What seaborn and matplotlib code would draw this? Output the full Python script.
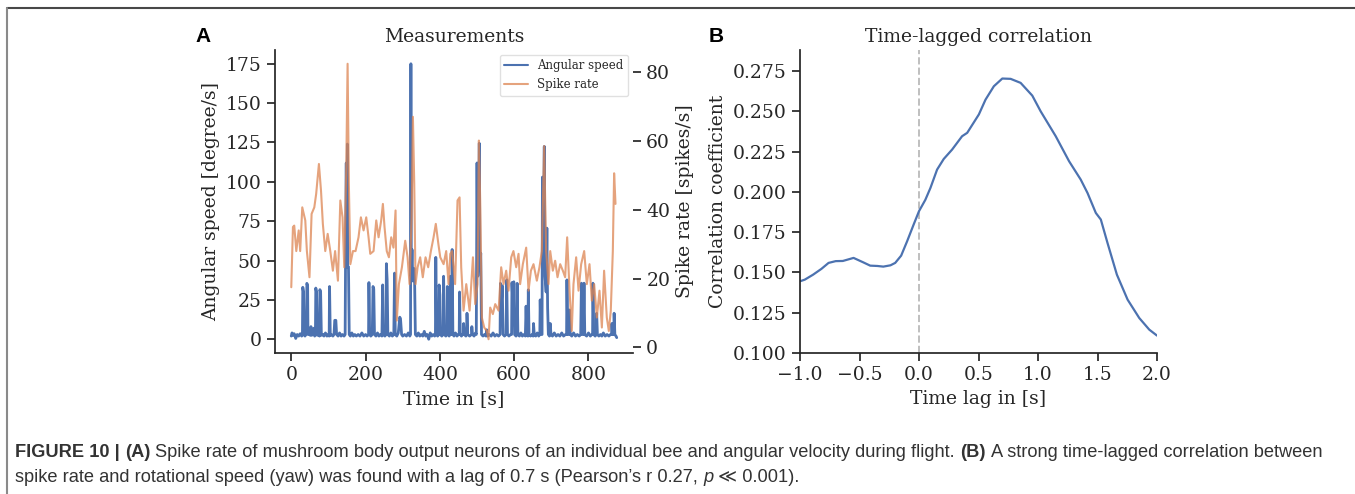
import matplotlib
matplotlib.use("Agg")
import matplotlib.pyplot as plt
from matplotlib import font_manager
from matplotlib.lines import Line2D
import seaborn as sns

# ---- panel A: angular speed (left axis) ----
speed_time = [0, 2, 5, 8, 12, 16, 20, 24, 28, 30,
              31, 33, 35, 37, 39, 41, 42, 44, 45, 48,
              51, 53, 55, 58, 61, 63, 65, 66, 68, 70,
              73, 76, 77, 79, 81, 85, 88, 92, 96, 100,
              102, 103, 105, 108, 112, 115, 117, 120, 122, 126,
              130, 134, 138, 142, 145, 146, 148, 149, 151, 152,
              154, 156, 159, 163, 167, 171, 175, 180, 185, 190,
              195, 200, 204, 208, 209, 211, 214, 218, 220, 222,
              224, 228, 232, 236, 240, 244, 246, 248, 252, 255,
              256, 258, 260, 264, 268, 272, 276, 278, 280, 284,
              288, 292, 294, 297, 300, 305, 310, 315, 319, 321,
              322, 323, 325, 327, 330, 332, 334, 338, 342, 346,
              350, 354, 358, 362, 366, 370, 374, 378, 382, 386,
              388, 389, 391, 394, 397, 398, 400, 402, 405, 409,
              410, 412, 416, 419, 420, 422, 425, 427, 428, 430,
              432, 433, 435, 438, 442, 446, 450, 452, 453, 455,
              458, 461, 463, 464, 466, 470, 472, 473, 475, 480,
              485, 486, 488, 492, 496, 498, 500, 502, 504, 506,
              508, 510, 512, 516, 520, 524, 526, 528, 533, 538,
              543, 548, 553, 558, 562, 563, 565, 568, 570, 574,
              578, 580, 582, 586, 590, 593, 594, 596, 599, 601,
              605, 607, 608, 610, 614, 618, 622, 626, 630, 632,
              634, 637, 638, 640, 644, 648, 651, 652, 654, 658,
              662, 666, 669, 670, 672, 675, 676, 678, 681, 683,
              686, 688, 690, 692, 695, 697, 699, 703, 708, 713,
              718, 723, 728, 733, 738, 741, 742, 744, 747, 749,
              751, 755, 760, 765, 770, 775, 779, 781, 783, 786,
              788, 790, 795, 800, 805, 809, 811, 812, 814, 818,
              821, 822, 824, 828, 832, 836, 840, 845, 850, 855,
              859, 862, 863, 865, 868, 869, 871, 874, 876]
speed_vals = [2, 4, 2.5, 3.5, 0.5, 3, 2, 3.5, 2, 2.5,
              33, 30, 3, 2, 3, 4, 35.5, 34, 3, 4,
              2.5, 8, 2.5, 3, 7, 2, 3, 32.5, 30, 2.5,
              3, 2, 31.5, 30, 2.5, 3, 2, 4, 2, 3,
              2, 33.5, 2.5, 3, 2, 3, 12, 12, 3, 2,
              4, 2, 3, 2, 3, 46, 112, 46, 124, 46,
              46, 3, 2, 4, 2, 3, 2, 3, 2, 4,
              2, 3, 2, 3, 36, 3, 2, 3, 33.5, 32,
              3, 2, 4, 2, 3, 2, 34.5, 3, 2, 3,
              48, 38, 3, 2, 4, 2, 3, 42, 3, 2,
              4, 14, 13, 3, 2, 3, 2, 4, 2, 3,
              175, 40, 57, 37, 45, 37, 3, 2, 4, 2,
              3, 2, 5, 2, 3, 0, 4, 2, 3, 2,
              3, 52, 3, 2, 3, 34.5, 28, 3, 2, 3,
              40, 3, 2, 3, 33.5, 3, 2, 3, 40, 3,
              3, 57, 3, 2, 4, 2, 3, 3, 30, 3,
              2, 3, 3, 10, 3, 2, 3, 16.5, 3, 2,
              3, 8, 3, 2, 4, 3, 112, 40, 50, 124.5,
              45, 54.7, 3, 2, 3, 2, 6, 2, 3, 2,
              4, 2, 3, 2, 3, 35.5, 20, 34, 3, 2,
              3, 37.7, 3, 2, 3, 3, 36, 25, 36.5, 3,
              2, 3, 35.5, 3, 2, 4, 2, 3, 2, 21,
              3, 2, 31.4, 3, 2, 3, 2, 10, 3, 2,
              4, 2, 3, 25, 3, 3, 103, 45, 122.5, 40,
              30, 70.6, 20, 3, 2, 10, 3, 2, 4, 2,
              3, 2, 4, 2, 3, 3, 37.7, 3, 3, 18.6,
              3, 2, 4, 2, 3, 2, 3, 35.6, 3, 3,
              35.6, 3, 2, 4, 2, 3, 3, 35.6, 3, 2,
              3, 16.5, 3, 2, 3, 2, 4, 2, 3, 2,
              3, 3, 10, 3, 3, 16.5, 3, 2, 1]

# ---- panel A: spike rate (right axis) ----
rate_time = [0, 4.5, 8, 13.5, 20, 24, 29.6, 37.7, 42, 49,
             54.7, 62, 67, 74.4, 80, 85, 91.5, 98, 105, 112,
             118, 125.6, 132, 138, 142.6, 148, 151.6, 155, 159, 166,
             173, 181, 187.4, 194.6, 201.8, 208, 212.6, 221.5, 228.7, 235,
             242, 246.6, 251, 257, 262.8, 269, 275, 280.7, 284, 289.7,
             297.8, 306.7, 313, 318.4, 323.8, 327.4, 331, 334.5, 340, 347,
             354, 361.4, 368.6, 375.8, 383, 389, 396, 401, 410, 417,
             423.3, 428, 433, 441, 447.5, 453, 457.4, 463.7, 471, 480,
             489, 495, 501.3, 505, 508.5, 513, 519.3, 526.5, 531, 535.4,
             542.6, 549, 558, 565, 571.3, 578.5, 584.8, 592, 598, 605.4,
             611.7, 616, 623.3, 632.3, 638.6, 645, 652, 661, 668, 674.4,
             680.7, 686, 692.4, 697, 704, 710.3, 716.6, 723.8, 731, 737.2,
             742.6, 749, 755, 759.6, 766.8, 773.2, 780.3, 788.4, 795.5, 802.7,
             809, 815.3, 822.5, 829.6, 836, 842, 849.3, 854.7, 860, 865.5,
             869, 872.7]
rate_vals = [17.5, 35, 35.4, 28, 34, 28, 40.7, 36.9, 28, 20.4,
             38.8, 40.7, 44.6, 53.3, 45.6, 35.9, 28, 33, 28, 22.3,
             28, 19.4, 42.7, 37.8, 23.3, 52.4, 82.4, 47.5, 24.2, 28,
             28, 32, 37.8, 34, 37.8, 32, 27.2, 28, 36.9, 32,
             36.9, 41.7, 35, 28, 26.2, 32, 29, 39.8, 7.8, 18.4,
             23.3, 31, 26.2, 18.4, 37.8, 67, 47.5, 18.4, 23.3, 26.2,
             20.4, 26.2, 23.3, 28, 32, 35.9, 30, 26.2, 24.2, 28,
             18.4, 27.2, 28, 18.4, 42.7, 43.6, 23.3, 10.7, 18.4, 10.7,
             26.2, 12.6, 18.4, 60.1, 42.7, 8.7, 5.8, 4.8, 2.4, 11.6,
             9.7, 12.6, 10.7, 23.3, 18.4, 22.3, 16.5, 26.2, 28, 23.3,
             27.2, 18.4, 24.2, 29, 16.5, 22.3, 24.2, 19.4, 23.3, 28,
             58.5, 28, 18.4, 28, 22.3, 25.2, 20.4, 24.2, 22.3, 20.4,
             32, 16.5, 4.8, 18.4, 26.2, 16.5, 24.2, 28, 18.4, 24.2,
             13.6, 18.4, 8.7, 16.5, 5.8, 22.3, 8.7, 4.8, 10.7, 28,
             50.6, 41.7]

# ---- panel B: time-lagged correlation ----
lag_time = [-1.0, -0.96, -0.89, -0.82, -0.76, -0.70, -0.64, -0.55, -0.47, -0.41,
            -0.35, -0.30, -0.24, -0.20, -0.15, -0.10, -0.045, 0.0, 0.053, 0.096,
            0.152, 0.208, 0.278, 0.362, 0.405, 0.503, 0.559, 0.629, 0.70, 0.77,
            0.854, 0.952, 1.022, 1.149, 1.261, 1.359, 1.416, 1.486, 1.528, 1.584,
            1.663, 1.753, 1.851, 1.935, 2.0]
lag_corr = [0.1445, 0.1455, 0.1486, 0.1522, 0.1559, 0.1570, 0.1571, 0.1590, 0.1563, 0.1542,
            0.1540, 0.1536, 0.1544, 0.1559, 0.1604, 0.1693, 0.1797, 0.1880, 0.1950, 0.2024,
            0.2138, 0.2204, 0.2262, 0.2345, 0.2366, 0.2480, 0.2572, 0.2655, 0.2703, 0.2701,
            0.2676, 0.2597, 0.2500, 0.2345, 0.2190, 0.2076, 0.1993, 0.1869, 0.1828, 0.1683,
            0.1486, 0.1331, 0.1217, 0.1145, 0.1108]

caption_line1 = [("FIGURE 10 |", "bold", "normal"), ("(A)", "bold", "normal"),
                 ("Spike rate of mushroom body output neurons of an individual bee and "
                  "angular velocity during flight.", "normal", "normal"),
                 ("(B)", "bold", "normal"),
                 ("A strong time-lagged correlation between", "normal", "normal")]
caption_line2 = [("spike rate and rotational speed (yaw) was found with a lag of 0.7 s "
                  "(Pearson\u2019s r 0.27,", "normal", "normal"),
                 ("p", "normal", "italic"), ("\u226a 0.001).", "normal", "normal")]

assert len(speed_time) == len(speed_vals)
assert len(rate_time) == len(rate_vals)
assert len(lag_time) == len(lag_corr)

W, H = 1355, 494
BLUE = "#4C72B0"
ORANGE = "#DD8452"
INK = "#262626"

sns.set_theme(style="ticks")
plt.rcParams["font.family"] = ["DejaVu Serif"]
plt.rcParams.update({
    "axes.linewidth": 1.25, "axes.edgecolor": INK, "text.color": INK,
    "axes.labelcolor": INK, "xtick.color": INK, "ytick.color": INK,
    "xtick.major.size": 6, "ytick.major.size": 6,
    "xtick.major.width": 1.25, "ytick.major.width": 1.25,
    "xtick.labelsize": 13.5, "ytick.labelsize": 13.5,
    "axes.labelsize": 13.5, "axes.titlesize": 13.5,
})

fig = plt.figure(figsize=(W / 100, H / 100), dpi=100)


def px_rect(x0, x1, y_top, y_bot):
    return [x0 / W, 1 - y_bot / H, (x1 - x0) / W, (y_bot - y_top) / H]


# === Panel A ===
ax = fig.add_axes(px_rect(275, 633, 50, 353))
sns.lineplot(x=speed_time, y=speed_vals, ax=ax, color=BLUE, lw=2.0,
             estimator=None, label="Angular speed")
ax2 = ax.twinx()
sns.lineplot(x=rate_time, y=rate_vals, ax=ax2, color=ORANGE, lw=1.5, alpha=0.75,
             estimator=None, label="Spike rate")
for a in (ax, ax2):
    if a.get_legend() is not None:
        a.get_legend().remove()

ax.set_yticks([0, 25, 50, 75, 100, 125, 150, 175])
ax.set_xticks([0, 200, 400, 600, 800])
ax2.set_yticks([0, 20, 40, 60, 80])
ax.set_xlabel("Time in [s]")
ax.set_ylabel("Angular speed [degree/s]")
ax2.set_ylabel("Spike rate [spikes/s]")
ax.set_title("Measurements")
ax.spines[["top", "right"]].set_visible(False)
ax2.spines[["top", "right", "left", "bottom"]].set_visible(False)

handles = [Line2D([], [], color=BLUE, lw=1.5),
           Line2D([], [], color=ORANGE, lw=1.5, alpha=0.75)]
leg = ax2.legend(handles, ["Angular speed", "Spike rate"], loc="upper right",
                 fontsize=8.5, frameon=True, borderaxespad=0.4,
                 handlelength=2.0)
leg.get_frame().set_edgecolor("0.85")

# === Panel B ===
bx = fig.add_axes(px_rect(800, 1157, 50, 353))
sns.lineplot(x=lag_time, y=lag_corr, ax=bx, color=BLUE, lw=1.6, estimator=None)
bx.axvline(0, color="0.75", ls="--", lw=1.4, zorder=0)
bx.set_xlim(-1.0, 2.0)
bx.set_ylim(0.1, 0.288)
bx.set_xticks([-1.0, -0.5, 0.0, 0.5, 1.0, 1.5, 2.0])
bx.set_yticks([0.100, 0.125, 0.150, 0.175, 0.200, 0.225, 0.250, 0.275])
bx.set_xlabel("Time lag in [s]")
bx.set_ylabel("Correlation coefficient")
bx.set_title("Time-lagged correlation")
sns.despine(ax=bx)

# panel letters
for letter, xp in (("A", 203), ("B", 716)):
    fig.text(xp / W, 1 - 36 / H, letter, family=["Liberation Sans", "DejaVu Sans"],
             fontweight="bold", fontsize=15, ha="center", va="center", color="black")

# outer frame of the figure page
fig.add_artist(Line2D([7.5 / W, 1], [1 - 8.5 / H, 1 - 8.5 / H], color="#484848",
                      lw=1.5, transform=fig.transFigure))
fig.add_artist(Line2D([7.5 / W, 7.5 / W], [0, 1 - 8.5 / H], color="#8a8a8a",
                      lw=1.5, transform=fig.transFigure))


# === caption ===
def pick_caption_font():
    for name in ["Liberation Sans Narrow", "Liberation Sans"]:
        try:
            font_manager.findfont(font_manager.FontProperties(family=name),
                                  fallback_to_default=False)
            return name
        except ValueError:
            pass
    return "DejaVu Sans"


cap_family = [pick_caption_font(), "DejaVu Sans"]
renderer = fig.canvas.get_renderer()


def text_width(s, size, weight="normal", style="normal"):
    t = fig.text(0, 0, s, family=cap_family, fontsize=size, fontweight=weight,
                 fontstyle=style)
    w = t.get_window_extent(renderer).width
    t.remove()
    return w


def run_width(runs, size):
    space = text_width("a a", size) - text_width("aa", size)
    return sum(text_width(s, size, wt, st) for s, wt, st in runs) + space * (len(runs) - 1)


def draw_runs(runs, y_px, size):
    space = text_width("a a", size) - text_width("aa", size)
    x = 15.0
    for s, wt, st in runs:
        t = fig.text(x / W, 1 - y_px / H, s, family=cap_family, fontsize=size,
                     fontweight=wt, fontstyle=st, color="#333333", va="baseline")
        x += t.get_window_extent(renderer).width + space


cap_size = 10 * 1310 / run_width(caption_line1, 10)
draw_runs(caption_line1, 457, cap_size)
draw_runs(caption_line2, 482, cap_size)

fig.savefig("out.png", dpi=100)
